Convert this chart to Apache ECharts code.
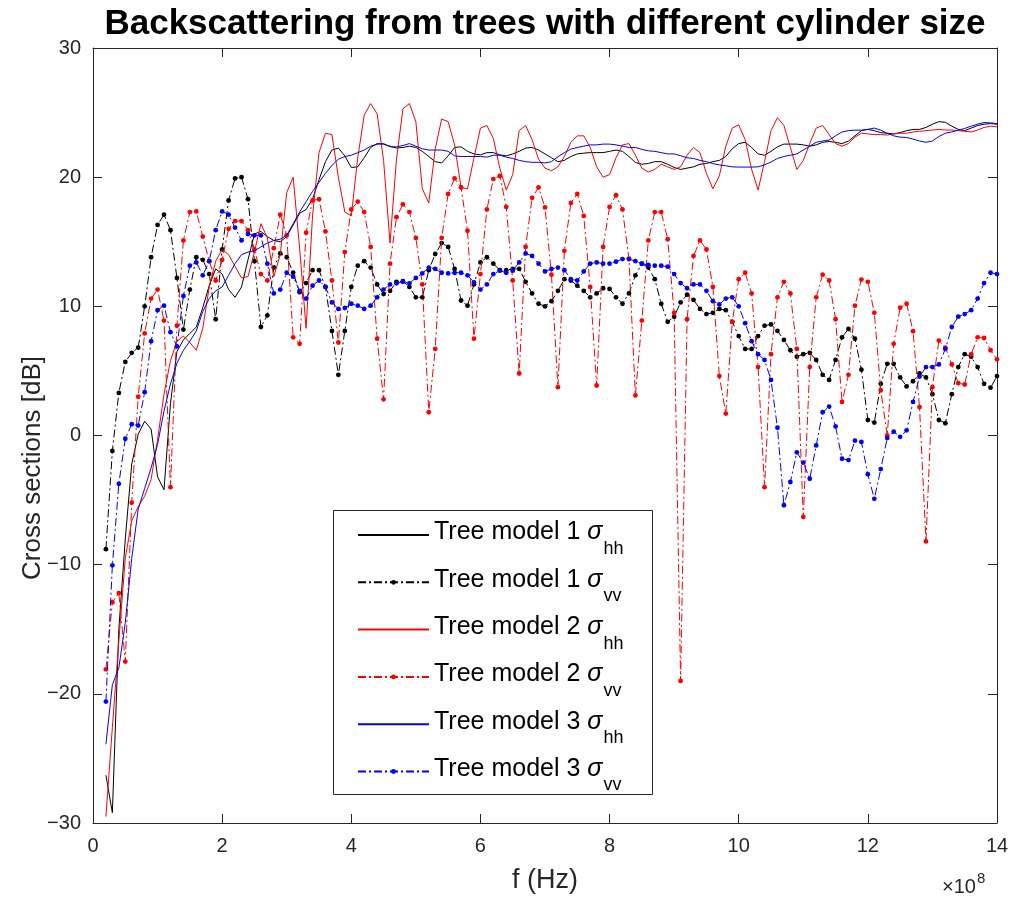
<!DOCTYPE html>
<html>
<head>
<meta charset="utf-8">
<script src="https://cdn.jsdelivr.net/npm/echarts@6/dist/echarts.min.js"></script>
<style>
html,body{margin:0;padding:0;background:#fff;}
#chart{width:1012px;height:902px;}
</style>
</head>
<body>
<div id="chart"></div>
<script>
// frequency grid (x 1e8 Hz)
const fStart = 0.2, fStep = 0.1;
// Tree model 1 sigma_hh (black solid)
const t1hh = [-26.3,-29.2,-15.0,-8.0,-2.2,0.1,1.1,0.5,-3.2,-4.2,
 2.5,6.5,7.4,7.9,8.4,9.9,11.6,12.9,12.5,11.3,
 10.7,11.5,13.6,15.6,15.8,15.4,15.1,15.0,15.4,16.3,
 17.2,17.5,18.3,19.8,21.2,22.1,22.25,21.65,20.75,20.8,
 21.5,22.3,22.6,22.55,22.4,22.25,22.3,22.4,22.3,22.0,
 21.6,21.2,21.1,21.65,22.3,22.35,22.0,21.8,21.73,21.9,
 21.9,21.73,21.65,21.8,22.0,22.25,22.3,22.1,21.8,21.5,
 21.2,21.3,21.6,21.8,21.86,21.9,21.9,21.9,22.0,22.1,
 22.0,21.6,21.14,21.0,21.06,21.2,21.2,21.0,20.75,20.6,
 20.7,20.8,21.0,21.06,21.2,21.3,21.6,22.2,22.6,22.7,
 22.3,21.8,21.7,22.0,22.35,22.56,22.56,22.56,22.5,22.4,
 22.5,22.7,22.76,22.7,22.6,22.8,23.2,23.6,23.7,23.6,
 23.45,23.4,23.35,23.45,23.6,23.7,23.7,23.85,24.1,24.3,
 24.25,23.95,23.7,23.6,23.8,24.0,24.1,24.15,24.1];
// Tree model 1 sigma_vv (black dash-dot)
const t1vv = [-8.8,-1.2,3.3,5.7,6.4,6.8,10.0,13.8,16.3,17.1,
 15.9,12.2,8.2,11.3,13.8,13.6,12.5,9.0,14.4,18.2,
 19.9,20.0,18.3,13.5,8.4,9.3,13.0,14.1,13.8,12.6,
 11.1,11.8,12.8,12.8,11.5,8.1,4.7,8.1,11.5,13.15,
 13.5,13.0,11.7,10.95,11.2,11.9,11.95,11.5,10.7,10.7,
 12.8,14.05,14.9,14.6,12.9,10.45,10.05,11.7,13.4,13.8,
 13.3,12.8,12.8,12.9,12.9,11.9,11.0,10.2,10.0,10.4,
 11.2,12.1,12.0,11.6,11.2,10.7,11.0,11.4,11.35,10.7,
 10.2,11.0,12.4,13.3,13.0,12.1,10.2,8.8,9.2,10.3,
 10.9,10.5,9.8,9.4,9.5,9.8,9.7,8.8,7.7,6.7,
 6.7,7.7,8.5,8.6,8.1,7.4,6.6,6.1,6.3,6.4,
 5.85,4.7,4.3,5.85,7.6,8.25,7.5,5.1,1.2,1.0,
 4.0,5.55,5.55,4.5,3.8,4.2,4.8,4.5,3.2,1.2,
 0.95,3.2,5.3,6.3,6.1,5.3,4.0,3.7,4.6];
// Tree model 2 sigma_hh (red solid)
const t2hh = [-29.5,-22.6,-15.9,-9.5,-6.6,-5.5,-4.7,-3.4,-0.3,3.2,
 5.8,7.3,7.7,7.2,6.6,8.3,11.5,13.5,14.4,14.0,
 13.1,12.2,12.3,14.2,16.4,15.3,12.3,14.0,18.8,20.0,
 14.5,8.3,17.0,21.9,23.4,23.3,20.0,17.3,17.0,21.5,
 24.8,25.7,24.9,21.3,14.9,21.4,25.3,25.7,24.3,19.1,
 18.0,22.2,24.5,24.3,22.5,19.2,19.1,21.5,23.8,24.0,
 23.0,20.7,19.0,20.2,23.6,24.0,22.9,21.4,20.7,20.5,
 20.8,21.6,22.7,23.2,23.2,22.3,20.8,20.0,20.2,21.5,
 22.5,22.6,21.7,20.7,20.4,20.6,21.0,20.8,20.6,20.8,
 21.7,22.3,21.9,20.3,19.1,20.1,22.4,23.8,24.05,22.9,
 20.6,19.0,21.2,23.6,24.6,24.0,22.3,20.6,21.3,22.6,
 23.8,24.0,23.3,22.6,22.4,22.6,23.1,23.4,23.35,23.3,
 23.3,23.26,23.35,23.4,23.4,23.5,23.55,23.6,23.65,23.7,
 23.65,23.65,23.6,23.55,23.5,23.65,23.85,23.95,23.9];
// Tree model 2 sigma_vv (red dash-dot)
const t2vv = [-18.1,-12.9,-12.2,-17.5,-5.2,3.0,7.9,10.6,11.3,8.9,
 -4.0,8.5,15.1,17.3,17.35,15.4,13.5,12.0,13.6,16.0,
 16.6,16.6,15.9,14.4,12.5,12.0,14.5,17.1,15.5,7.6,
 7.1,15.7,18.2,18.3,15.8,12.0,7.2,14.2,17.5,18.1,
 17.3,14.6,7.5,2.8,13.3,16.9,17.9,17.3,15.3,11.7,
 1.8,6.7,15.3,18.7,19.9,19.2,15.85,7.5,12.5,17.5,
 19.85,20.1,17.7,12.0,4.8,14.6,18.4,19.2,17.66,12.45,
 3.74,14.3,18.0,18.7,17.0,11.5,3.87,14.6,17.7,18.6,
 17.5,13.7,3.1,8.9,15.1,17.3,17.3,15.2,9.5,-19.0,
 9.0,13.9,15.1,14.4,11.5,4.6,1.7,8.8,12.1,12.6,
 11.0,5.3,-4.0,6.3,10.7,11.9,11.0,6.7,-6.3,5.3,
 10.7,12.45,12.0,9.0,2.6,4.7,10.05,12.07,11.9,9.5,
 3.5,0.0,7.1,9.9,10.2,8.07,2.2,-8.2,3.74,7.35,
 6.8,5.5,4.05,3.95,6.3,7.6,7.55,6.6,5.9];
// Tree model 3 sigma_hh (blue solid)
const t3hh = [-23.9,-19.3,-18.0,-14.5,-9.5,-5.7,-4.1,-2.5,-0.7,1.9,
 4.0,5.6,6.6,7.3,8.1,9.6,10.6,11.2,11.5,12.4,
 13.3,14.0,14.2,14.3,14.6,14.9,15.1,15.2,15.5,16.4,
 17.3,18.1,18.9,19.6,20.3,20.9,21.4,21.6,21.7,21.9,
 22.1,22.4,22.55,22.6,22.35,22.35,22.45,22.6,22.4,22.2,
 22.1,22.1,22.1,22.0,21.65,21.6,21.6,21.6,21.6,21.55,
 21.7,21.7,21.55,21.45,21.3,21.2,21.15,21.15,21.1,21.2,
 21.58,21.9,22.17,22.3,22.4,22.5,22.5,22.56,22.56,22.5,
 22.4,22.3,22.3,22.15,22.04,22.0,21.9,21.8,21.8,21.66,
 21.5,21.45,21.3,21.2,21.05,20.95,20.88,20.8,20.78,20.78,
 20.78,20.8,20.95,21.17,21.45,21.6,21.7,21.8,22.1,22.4,
 22.7,22.8,22.87,23.2,23.5,23.6,23.64,23.64,23.7,23.8,
 23.64,23.4,23.2,23.1,23.07,22.95,22.8,22.7,22.8,23.15,
 23.4,23.5,23.64,23.77,23.95,24.1,24.23,24.2,24.15];
// Tree model 3 sigma_vv (blue dash-dot)
const t3vv = [-20.6,-10.05,-3.74,-0.25,0.87,0.77,3.35,7.3,9.7,10.05,
 8.0,6.9,10.8,13.15,13.4,12.4,13.5,15.9,17.35,17.1,
 16.1,15.1,15.6,15.5,15.5,13.3,11.0,11.3,12.6,12.3,
 11.2,10.6,11.6,12.0,11.5,10.3,9.8,9.87,10.2,10.05,
 9.8,10.05,10.7,11.3,11.7,11.78,11.9,11.78,12.2,12.55,
 13.0,12.9,12.6,12.55,12.6,12.6,12.4,11.86,11.3,11.7,
 12.5,12.76,12.6,12.76,13.4,14.1,13.9,13.3,12.7,12.9,
 13.0,12.8,12.1,12.0,12.7,13.3,13.4,13.3,13.3,13.46,
 13.66,13.66,13.5,13.3,13.2,13.15,13.15,13.07,12.5,11.8,
 11.4,11.7,11.7,11.2,10.4,10.15,10.6,10.7,10.0,8.7,
 7.3,6.3,5.85,4.3,0.6,-5.4,-3.6,-1.3,-2.1,-3.35,
 -0.77,1.8,2.24,0.7,-1.8,-1.9,-0.4,-0.5,-3.0,-4.9,
 -2.6,-0.2,0.3,-0.1,0.4,2.6,4.56,5.3,5.3,5.5,
 6.7,8.4,9.2,9.4,9.7,10.6,11.8,12.6,12.5];

const freq = t1hh.map((_, i) => +(fStart + i * fStep).toFixed(1));
const xTicks = [0, 2, 4, 6, 8, 10, 12, 14];
const yTicks = [-30, -20, -10, 0, 10, 20, 30];

const FONT = "'Liberation Sans', Arial, Helvetica, sans-serif";
const AX = '#262626';
const DASH = [8, 3, 2, 3];

function pairs(vals) { return vals.map((v, i) => [freq[i], v]); }

const seriesDefs = [
  { name: 'Tree model 1|hh', data: t1hh, color: '#000000', dashed: false },
  { name: 'Tree model 1|vv', data: t1vv, color: '#000000', dashed: true },
  { name: 'Tree model 2|hh', data: t2hh, color: '#ff0000', dashed: false },
  { name: 'Tree model 2|vv', data: t2vv, color: '#ff0000', dashed: true },
  { name: 'Tree model 3|hh', data: t3hh, color: '#0000ff', dashed: false },
  { name: 'Tree model 3|vv', data: t3vv, color: '#0000ff', dashed: true }
];

const series = seriesDefs.map((d, k) => ({
  name: d.name,
  type: 'line',
  xAxisIndex: 0, yAxisIndex: 0,
  data: pairs(d.data),
  symbol: d.dashed ? 'circle' : 'none',
  showSymbol: d.dashed,
  symbolSize: 4.8,
  itemStyle: { color: d.color },
  lineStyle: { color: d.color, width: 1, type: d.dashed ? DASH : 'solid' },
  emphasis: { disabled: true },
  z: 2 + k,
  animation: false
}));

const axisCommon = {
  type: 'value',
  axisLine: { show: true, onZero: false, lineStyle: { color: AX, width: 1 } },
  axisTick: { show: true, inside: true, length: 9, lineStyle: { color: AX } },
  splitLine: { show: false }
};

const chart = echarts.init(document.getElementById('chart'), null, { renderer: 'canvas' });
chart.setOption({
  backgroundColor: '#ffffff',
  animation: false,
  grid: { left: 93, right: 15, top: 48, bottom: 79, containLabel: false },
  xAxis: [
    Object.assign({}, axisCommon, {
      position: 'bottom', min: 0, max: 14, interval: 2,
      axisLabel: { color: AX, fontFamily: FONT, fontSize: 20, margin: 13 },
      name: 'f (Hz)', nameLocation: 'middle', nameGap: 44,
      nameTextStyle: { color: AX, fontFamily: FONT, fontSize: 27 }
    }),
    Object.assign({}, axisCommon, {
      position: 'top', min: 0, max: 14, interval: 2,
      axisLabel: { show: false }
    })
  ],
  yAxis: [
    Object.assign({}, axisCommon, {
      position: 'left', min: -30, max: 30, interval: 10,
      axisLabel: { color: AX, fontFamily: FONT, fontSize: 20, margin: 12,
        formatter: v => String(v).replace('-', '\u2212') }
    }),
    Object.assign({}, axisCommon, {
      position: 'right', min: -30, max: 30, interval: 10,
      axisLabel: { show: false }
    })
  ],
  legend: {
    orient: 'vertical', left: 357, top: 512, padding: 0,
    itemWidth: 71, itemHeight: 6, itemGap: 1.3,
    selectedMode: false, z: 10,
    data: seriesDefs.map(d => d.dashed ? { name: d.name } : { name: d.name, itemStyle: { opacity: 0 } }),
    formatter: n => { const p = n.split('|'); return '{m|' + p[0] + ' }{s|\u03c3}{b|' + p[1] + '}'; },
    textStyle: {
      color: '#000', fontFamily: FONT,
      rich: {
        m: { fontSize: 25, fontFamily: FONT, color: '#000', padding: [0, 0, 5, 0] },
        s: { fontSize: 25, fontFamily: FONT, fontStyle: 'italic', color: '#000', padding: [0, 0, 5, 0] },
        b: { fontSize: 18, fontFamily: FONT, color: '#000', lineHeight: 10, padding: [28, 0, 0, 1] }
      }
    }
  },
  graphic: [
    { type: 'rect', z: 9, shape: { x: 333.5, y: 510.5, width: 319, height: 284 },
      style: { fill: '#ffffff', stroke: AX, lineWidth: 1 } },
    { type: 'text', z: 20, x: 545, y: 7,
      style: { text: 'Backscattering from trees with different cylinder size', font: 'bold 35px ' + FONT,
        fill: '#000', textAlign: 'center', textVerticalAlign: 'top' } },
    { type: 'text', z: 20, x: 33, y: 468, rotation: Math.PI / 2,
      style: { text: 'Cross sections [dB]', font: '26px ' + FONT,
        fill: AX, textAlign: 'center', textVerticalAlign: 'middle' } },
    { type: 'text', z: 20, x: 942, y: 869,
      style: { text: '{a|\u00d710}{e|8}', fill: AX, textVerticalAlign: 'top',
        rich: { a: { fontSize: 20, fontFamily: FONT, color: AX, padding: [8, 0, 0, 0] },
                e: { fontSize: 15, fontFamily: FONT, color: AX, padding: [0, 0, 8, 1] } } } }
  ],
  series: series
});
</script>
</body>
</html>
